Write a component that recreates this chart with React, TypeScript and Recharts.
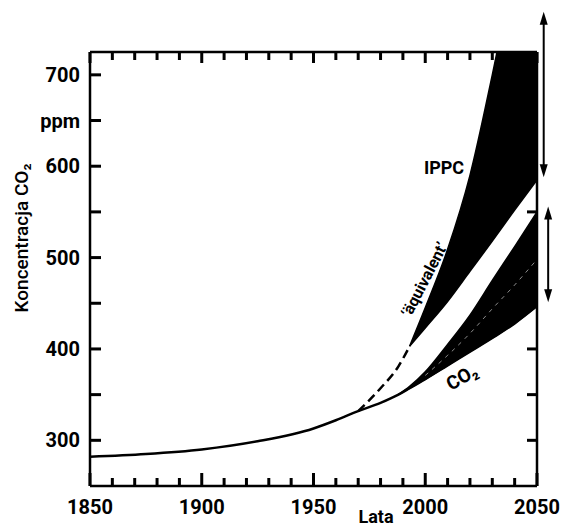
import React from 'react';
import {
  ComposedChart,
  Area,
  Line,
  XAxis,
  YAxis,
  Label,
  ReferenceDot,
  ReferenceLine,
} from 'recharts';

const FONT = 'Roboto, "DejaVu Sans", sans-serif';

// years sampled along the curves
const years = [1850, 1875, 1900, 1925, 1950, 1960, 1970, 1980, 1988, 1993, 2000, 2010, 2020, 2030, 2040, 2050];
// solid CO2 path (lower edge of the CO2 band after ~1990)
const co2Path = [282, 285, 290, 299, 313, 322, 332, 341, 350, 357, 367, 382, 397, 412, 428, 447];
// dashed 'äquivalent' path before the IPPC band
const equivPath = [null, null, null, null, null, null, 332, 357, 381, 403, null, null, null, null, null, null];
// CO2 band
const co2Low = [null, null, null, null, null, null, null, null, 350, 357, 367, 382, 397, 412, 428, 447];
const co2High = [null, null, null, null, null, null, null, null, 350, 359, 375, 405, 437, 475, 512, 550];
const co2Mid = [null, null, null, null, null, null, null, null, null, null, 371, 393, 417, 444, 470, 498];
// IPPC equivalent band
const ippcLow = [null, null, null, null, null, null, null, null, null, 403, 423, 452, 485, 518, 552, 585];
const ippcHigh = [null, null, null, null, null, null, null, null, null, 403, 445, 509, 590, 700, 820, 920];

const decadeTicks = [1850, 1860, 1870, 1880, 1890, 1900, 1910, 1920, 1930, 1940, 1950, 1960, 1970, 1980, 1990, 2000, 2010, 2020, 2030, 2040, 2050];
const yTicks = [300, 350, 400, 450, 500, 550, 600, 650, 700];
const X_MIN = 1850;
const X_MAX = 2050;
const Y_MIN = 250;
const Y_MAX = 725;

// ranges marked by the double arrows right of the plot
const arrowRanges = [
  { year: 2053, from: 769, to: 588 },
  { year: 2055, from: 556, to: 451 },
];

const data = years.map((year, i) => ({
  year,
  co2: co2Path[i],
  equiv: equivPath[i],
  co2Band: co2Low[i] != null ? [co2Low[i], co2High[i]] : null,
  co2Mid: co2Mid[i],
  ippcBand: ippcLow[i] != null ? [ippcLow[i], ippcHigh[i]] : null,
}));

const textStyle = { fontFamily: FONT, fontWeight: 700, fill: '#000' };

const renderBottomTick = (p: any) => {
  const x = Number(p.x);
  const y = Number(p.y);
  const v = p.payload.value;
  const major = v % 50 === 0;
  return (
    <g key={`b-${v}`}>
      <line x1={x} x2={x} y1={y} y2={y - (major ? 13 : 8)} stroke="#000" strokeWidth={3} />
      {major && (
        <text x={x} y={y + 28} textAnchor="middle" fontSize={20} {...textStyle}>
          {v}
        </text>
      )}
    </g>
  );
};

const renderLeftTick = (p: any) => {
  const x = Number(p.x);
  const y = Number(p.y);
  const v = p.payload.value;
  const text = v % 100 === 0 ? String(v) : v === 650 ? 'ppm' : '';
  return (
    <g key={`l-${v}`}>
      <line x1={x} x2={x + 11} y1={y} y2={y} stroke="#000" strokeWidth={3} />
      {text && (
        <text x={x - 10} y={y + 7} textAnchor="end" fontSize={20} {...textStyle}>
          {text}
        </text>
      )}
    </g>
  );
};

// short inward tick drawn from a frame point
const tickMark = (dx: number, dy: number) => (p: any) => {
  const vb = p.viewBox;
  const cx = vb.x + vb.width / 2;
  const cy = vb.y + vb.height / 2;
  return <line x1={cx} y1={cy} x2={cx + dx} y2={cy + dy} stroke="#000" strokeWidth={3} />;
};

const ArrowShape = (props: any) => {
  const { x1, y1, y2 } = props;
  const top = Math.min(y1, y2);
  const bot = Math.max(y1, y2);
  return (
    <g>
      <line x1={x1} x2={x1} y1={top + 6} y2={bot - 6} stroke="#000" strokeWidth={2} />
      <polygon points={`${x1},${top} ${x1 - 4},${top + 13} ${x1 + 4},${top + 13}`} fill="#000" />
      <polygon points={`${x1},${bot} ${x1 - 4},${bot - 13} ${x1 + 4},${bot - 13}`} fill="#000" />
    </g>
  );
};

const textLabel = (txt: React.ReactNode, size: number, angle: number) => (p: any) => {
  const vb = p.viewBox;
  const cx = vb.x + vb.width / 2;
  const cy = vb.y + vb.height / 2;
  return (
    <text
      x={cx}
      y={cy}
      textAnchor="middle"
      dominantBaseline="central"
      fontSize={size}
      transform={`rotate(${angle} ${cx} ${cy})`}
      {...textStyle}
    >
      {txt}
    </text>
  );
};

export default function App() {
  return (
    <div style={{ position: 'absolute', left: 0, top: 0, background: '#fff' }}>
      <ComposedChart
        width={566}
        height={528}
        data={data}
        margin={{ top: 0, right: 0, bottom: 0, left: 0 }}
        style={{ fontFamily: FONT }}
      >
        <XAxis
          dataKey="year"
          type="number"
          domain={[X_MIN, X_MAX]}
          ticks={decadeTicks}
          interval={0}
          height={42}
          tickSize={0}
          tickMargin={0}
          tick={renderBottomTick}
          tickLine={false}
          axisLine={{ stroke: '#000', strokeWidth: 2.5 }}
          allowDataOverflow
        >
          <Label
            content={(p: any) => (
              <text x={p.viewBox.x + 286} y={p.viewBox.y + 37} textAnchor="middle" fontSize={18} {...textStyle}>
                Lata
              </text>
            )}
          />
        </XAxis>
        <XAxis
          xAxisId="top"
          orientation="top"
          dataKey="year"
          type="number"
          domain={[X_MIN, X_MAX]}
          ticks={[]}
          height={52}
          tick={false}
          tickLine={false}
          axisLine={{ stroke: '#000', strokeWidth: 2.5 }}
          allowDataOverflow
        />
        <YAxis
          type="number"
          domain={[Y_MIN, Y_MAX]}
          ticks={yTicks}
          interval={0}
          width={90}
          tickSize={0}
          tickMargin={0}
          tick={renderLeftTick}
          tickLine={false}
          axisLine={{ stroke: '#000', strokeWidth: 2.5 }}
          allowDataOverflow
        >
          <Label
            content={(p: any) => {
              const cx = p.viewBox.x + 21;
              const cy = p.viewBox.y + p.viewBox.height / 2 - 31;
              return (
                <text
                  x={cx}
                  y={cy}
                  textAnchor="middle"
                  dominantBaseline="central"
                  fontSize={19}
                  fontFamily={FONT}
                  fontWeight={500}
                  fill="#000"
                  transform={`rotate(-90 ${cx} ${cy})`}
                >
                  Koncentracja CO₂
                </text>
              );
            }}
          />
        </YAxis>
        <YAxis
          yAxisId="right"
          orientation="right"
          type="number"
          domain={[Y_MIN, Y_MAX]}
          ticks={[]}
          width={29}
          tick={false}
          tickLine={false}
          axisLine={{ stroke: '#000', strokeWidth: 2.5 }}
          allowDataOverflow
        />

        <Area
          dataKey="ippcBand"
          type="monotone"
          stroke="#000"
          strokeWidth={1.5}
          fill="#000"
          fillOpacity={1}
          isAnimationActive={false}
          dot={false}
          activeDot={false}
        />
        <Area
          dataKey="co2Band"
          type="monotone"
          stroke="#000"
          strokeWidth={1.5}
          fill="#000"
          fillOpacity={1}
          isAnimationActive={false}
          dot={false}
          activeDot={false}
        />
        <Line
          dataKey="co2Mid"
          type="monotone"
          stroke="#fff"
          strokeOpacity={0.55}
          strokeWidth={1}
          strokeDasharray="4 5"
          dot={false}
          activeDot={false}
          isAnimationActive={false}
        />
        <Line
          dataKey="equiv"
          type="monotone"
          stroke="#000"
          strokeWidth={2.5}
          strokeDasharray="9 5"
          dot={false}
          activeDot={false}
          isAnimationActive={false}
        />
        <Line
          dataKey="co2"
          type="monotone"
          stroke="#000"
          strokeWidth={2.5}
          dot={false}
          activeDot={false}
          isAnimationActive={false}
        />

        {decadeTicks.map((yr) => (
          <ReferenceDot
            key={`xt-${yr}`}
            x={yr}
            y={Y_MAX}
            r={0}
            fill="none"
            stroke="none"
            ifOverflow="visible"
            label={{ content: tickMark(0, yr % 50 === 0 ? 11 : 8) }}
          />
        ))}
        {yTicks.map((v) => (
          <ReferenceDot
            key={`yr-${v}`}
            x={X_MAX}
            y={v}
            r={0}
            fill="none"
            stroke="none"
            ifOverflow="visible"
            label={{ content: tickMark(-10, 0) }}
          />
        ))}

        {arrowRanges.map((a, i) => (
          <ReferenceLine
            key={`ar-${i}`}
            segment={[
              { x: a.year, y: a.from },
              { x: a.year, y: a.to },
            ]}
            ifOverflow="visible"
            shape={ArrowShape}
          />
        ))}

        <ReferenceDot x={2008.4} y={599} r={0} fill="none" stroke="none" label={{ content: textLabel('IPPC', 18, 0) }} />
        <ReferenceDot
          x={1999.6}
          y={476}
          r={0}
          fill="none"
          stroke="none"
          label={{ content: textLabel('‘äquivalent’', 16, -62.6) }}
        />
        <ReferenceDot x={2016.4} y={369} r={0} fill="none" stroke="none" label={{ content: textLabel('CO₂', 19, -30) }} />
      </ComposedChart>
    </div>
  );
}
